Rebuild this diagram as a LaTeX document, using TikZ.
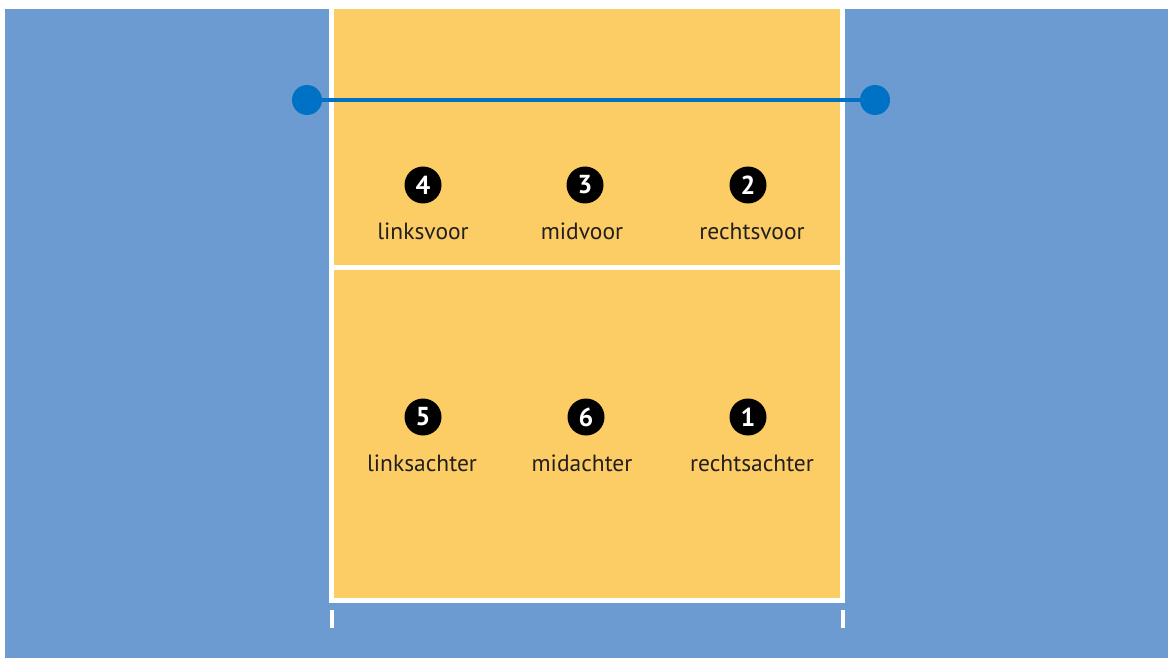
\documentclass[tikz,border=0pt]{standalone}
\usepackage{fontspec}
\setmainfont{PT Sans}
\definecolor{bgblue}{RGB}{107,155,208}
\definecolor{court}{RGB}{253,205,101}
\definecolor{netblue}{RGB}{0,114,198}
\definecolor{labeltext}{RGB}{35,31,32}
\begin{document}
\begin{tikzpicture}[x=1pt,y=-1pt,
  courtline/.style={draw=white,line width=5pt},
  numdot/.style={circle,fill=black,minimum size=37pt,inner sep=0pt,text=white,font=\fontsize{26}{26}\selectfont\bfseries},
  poslabel/.style={text=labeltext,font=\fontsize{23.5}{23.5}\selectfont,inner sep=0pt,anchor=base},
  netpost/.style={circle,fill=netblue,minimum size=30pt,inner sep=0pt}]
\useasboundingbox (0,0) rectangle (1168,658);
\fill[white] (0,0) rectangle (1168,658);
\fill[bgblue] (5,9) rectangle (1168,658);
\fill[court] (331,9) rectangle (843,601);
\draw[courtline] (331.5,9) -- (331.5,600.5) -- (842.5,600.5) -- (842.5,9);
\draw[courtline] (331.5,267.5) -- (842.5,267.5);
\draw[draw=white,line width=4pt] (331.5,610) -- (331.5,628);
\draw[draw=white,line width=4pt] (842.5,610) -- (842.5,628);
\node[netpost] (netL) at (307,100) {};
\node[netpost] (netR) at (875,100) {};
\draw[netblue,line width=4.5pt] (netL) -- (netR);
\node[numdot] (n4) at (423,185) {4};
\node[numdot] (n3) at (585,185) {3};
\node[numdot] (n2) at (748,185) {2};
\node[numdot] (n5) at (423,417) {5};
\node[numdot] (n6) at (586,417) {6};
\node[numdot] (n1) at (748,417) {1};
\node[poslabel] (l4) at (423,240) {linksvoor};
\node[poslabel] (l3) at (582,240) {midvoor};
\node[poslabel] (l2) at (752,240) {rechtsvoor};
\node[poslabel] (l5) at (422,471) {linksachter};
\node[poslabel] (l6) at (582,471) {midachter};
\node[poslabel] (l1) at (752,471) {rechtsachter};
\end{tikzpicture}
\end{document}
